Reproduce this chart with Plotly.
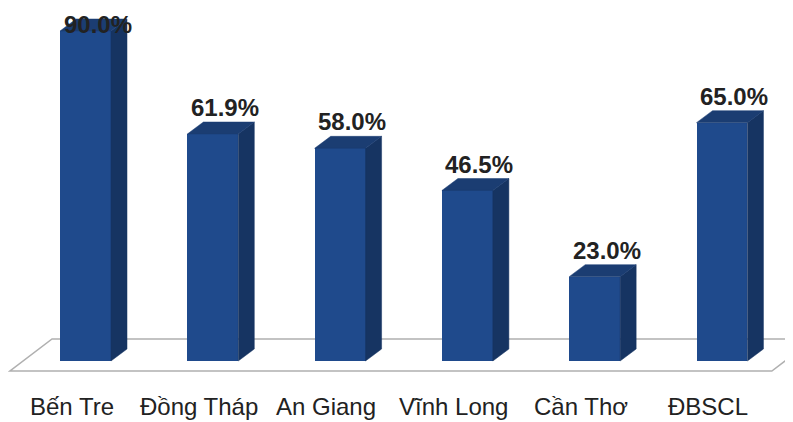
import plotly.graph_objects as go

categories = ["Bến Tre", "Đồng Tháp", "An Giang", "Vĩnh Long", "Cần Thơ", "ĐBSCL"]
values = [90.0, 61.9, 58.0, 46.5, 23.0, 65.0]
value_labels = ["90.0%", "61.9%", "58.0%", "46.5%", "23.0%", "65.0%"]

# pseudo-3D geometry (in axis units)
BAR_W = 0.40
DX = 0.126   # depth offset along x
DY = 3.27    # depth offset along y
# ranges compensate for the 8px default body margin of the page
Y_MIN, Y_MAX = -18.82, 96.27
X_MIN, X_MAX = -0.609, 5.621

FRONT = "#1f4a8c"
SIDE = "#163462"
TOP = "#1b3d72"
FLOOR_LINE = "#b0b0b0"
FONT = "Liberation Sans, Arial, sans-serif"

n = len(categories)
xs = list(range(n))

fig = go.Figure()

# front faces
fig.add_trace(go.Bar(
    x=xs, y=values, width=BAR_W,
    marker=dict(color=FRONT, line=dict(width=0)),
    hoverinfo="skip", showlegend=False,
))

# side + top faces
for x, v in zip(xs, values):
    r = x + BAR_W / 2
    l = x - BAR_W / 2
    fig.add_trace(go.Scatter(
        x=[r, r + DX, r + DX, r, r], y=[0, DY, v + DY, v, 0],
        mode="lines", fill="toself", fillcolor=SIDE,
        line=dict(color=SIDE, width=0.5), hoverinfo="skip", showlegend=False,
    ))
    fig.add_trace(go.Scatter(
        x=[l, r, r + DX, l + DX, l], y=[v, v, v + DY, v + DY, v],
        mode="lines", fill="toself", fillcolor=TOP,
        line=dict(color=TOP, width=0.5), hoverinfo="skip", showlegend=False,
    ))

# floor parallelogram (below the bars)
fx0 = -0.593
fx1 = n - 1 + 0.392
fy_front = -2.73
fy_back = 6.0
fdepth = 0.33
floor_path = "M {a},{fy0} L {b},{fy0} L {c},{fy1} L {d},{fy1} Z".format(
    a=fx0, b=fx1, c=fx1 + fdepth, d=fx0 + fdepth, fy0=fy_front, fy1=fy_back)

annotations = []
label_cap = Y_MAX - 8.4
for x, v, t in zip(xs, values, value_labels):
    annotations.append(dict(
        x=x + DX * 0.75, y=min(v + DY, label_cap), text="<b>%s</b>" % t,
        showarrow=False, xanchor="center", yanchor="bottom", borderpad=0,
        font=dict(family=FONT, size=24, color="#222222"),
    ))
for x, c in zip(xs, categories):
    annotations.append(dict(
        x=x - 0.11, y=-12.3, text=c, showarrow=False,
        xanchor="center", yanchor="middle",
        font=dict(family=FONT, size=24, color="#222222"),
    ))

fig.update_layout(
    width=793, height=422,
    margin=dict(l=0, r=0, t=0, b=0),
    paper_bgcolor="white", plot_bgcolor="white",
    xaxis=dict(range=[X_MIN, X_MAX], visible=False, fixedrange=True),
    yaxis=dict(range=[Y_MIN, Y_MAX], visible=False, fixedrange=True),
    shapes=[dict(type="path", path=floor_path, xref="x", yref="y", layer="below",
                 fillcolor="white", line=dict(color=FLOOR_LINE, width=1.5))],
    annotations=annotations,
    bargap=0,
)

fig.write_html("out.html")
